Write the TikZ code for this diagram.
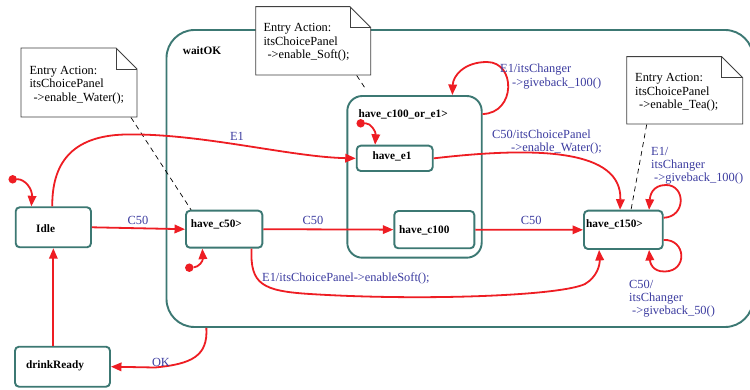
\documentclass[tikz,border=0pt]{standalone}
\usepackage{fontspec}
\setmainfont{Liberation Serif}
\usetikzlibrary{arrows.meta,calc}
\definecolor{stateline}{HTML}{3C7873}
\definecolor{trans}{HTML}{EE1D23}
\definecolor{lbl}{HTML}{3C3CA0}
\definecolor{noteline}{HTML}{404040}
\tikzset{
  superbox/.style={draw=stateline, line width=1.9pt, inner sep=0pt},
  statebox/.style={draw=stateline, line width=1.9pt, rounded corners=4pt, fill=white, inner sep=0pt},
  statename/.style={font=\fontsize{11.3}{13}\selectfont\bfseries, inner sep=0pt, anchor=base west},
  trn/.style={draw=trans, line width=1.8pt, -{Triangle[length=10.5pt,width=8.5pt]}},
  trnlabel/.style={text=lbl, font=\fontsize{12.4}{13.2}\selectfont, inner sep=0pt, align=left},
  initdot/.style={circle, fill=trans, inner sep=0pt, minimum size=8.5pt},
  noteshape/.style={draw=noteline, line width=0.9pt, fill=white, line join=miter},
  notetext/.style={font=\fontsize{12.4}{13.3}\selectfont, inner sep=0pt, align=left, anchor=north west},
  notelink/.style={draw=black, line width=0.7pt, dash pattern=on 5pt off 4pt}
}
\begin{document}
\begin{tikzpicture}[x=1pt,y=-1pt]
\useasboundingbox (0,0) rectangle (750,390);
\fill[white] (0,0) rectangle (750,390);
\clip (0,0) rectangle (750,390);

% superstates
\node[superbox, rounded corners=28pt, minimum width=586.5pt, minimum height=297pt] (waitok) at (459.75,178.5) {};
\node[statename] (waitokname) at (182.7,55) {waitOK};
\node[superbox, rounded corners=15pt, minimum width=134.4pt, minimum height=161.7pt] (comp) at (414.5,176.85) {};
\node[statename] (compname) at (358.3,117.5) {have\_c100\_or\_e1>};

% simple states
\node[statebox, minimum width=75.3pt, minimum height=40pt] (idle) at (53.35,227.3) {};
\node[statename] (idlename) at (36,232.5) {Idle};
\node[statebox, minimum width=95pt, minimum height=40pt] (drink) at (62.5,366.7) {};
\node[statename] (drinkname) at (26,368.5) {drinkReady};
\node[statebox, minimum width=76.3pt, minimum height=37pt] (c50) at (224.15,229.2) {};
\node[statename] (c50name) at (190.7,228) {have\_c50>};
\node[statebox, minimum width=80pt, minimum height=37.3pt] (c100) at (434.3,229.65) {};
\node[statename] (c100name) at (399,233.5) {have\_c100};
\node[statebox, minimum width=78.7pt, minimum height=38.3pt] (c150) at (623.35,229.85) {};
\node[statename] (c150name) at (586,228) {have\_c150>};
\node[statebox, minimum width=76pt, minimum height=25.3pt] (e1) at (394.7,158.35) {};
\node[statename] (e1name) at (372.3,159.5) {have\_e1};

% notes
\draw[noteshape] (21,48) -- (116,48) -- (137,69) -- (137,117) -- (21,117) -- cycle;
\draw[noteshape, fill=none] (116,48) -- (116,69) -- (137,69);
\node[notetext] (notewater) at (29.3,66) {Entry Action:\\itsChoicePanel\\\hspace{4pt}->enable\_Water();};
\coordinate (notewaterend) at (131,117.5);

\draw[noteshape] (255.7,6.7) -- (350,6.7) -- (370.7,27.4) -- (370.7,75) -- (255.7,75) -- cycle;
\draw[noteshape, fill=none] (350,6.7) -- (350,27.4) -- (370.7,27.4);
\node[notetext] (notesoft) at (263.3,23.5) {Entry Action:\\itsChoicePanel\\\hspace{4pt}->enable\_Soft();};
\coordinate (notesoftend) at (356.7,75.5);

\draw[noteshape] (626.7,56.7) -- (721.7,56.7) -- (742.7,77.7) -- (742.7,124) -- (626.7,124) -- cycle;
\draw[noteshape, fill=none] (721.7,56.7) -- (721.7,77.7) -- (742.7,77.7);
\node[notetext] (notetea) at (635,73.3) {Entry Action:\\itsChoicePanel\\\hspace{4pt}->enable\_Tea();};
\coordinate (noteteaend) at (646.7,124.5);

\draw[notelink] (notewaterend) -- ($(c50.north west)+(6,0)$);
\draw[notelink] (notesoftend) -- ($(comp.north west)+(20,-5)$);
\draw[notelink] (noteteaend) -- ($(c150.north west)+(48,0)$);

% initial pseudostates
\node[initdot] (i0) at (12.7,179.3) {};
\draw[trn] (i0) .. controls (25,179) and (32.5,189) .. ($(idle.north west)+(16.6,0)$);
\node[initdot] (i1) at (189.3,267.7) {};
\draw[trn] (i1) .. controls (199,267) and (203,261) .. ($(c50.south west)+(17.3,0)$);
\node[initdot] (i2) at (360.7,123.3) {};
\draw[trn] (i2) .. controls (371,123) and (376,132) .. ($(e1.north west)+(19.3,0)$);

% transitions
\draw[trn] (idle.east) -- (c50.west);
\node[trnlabel, anchor=base] (lc50a) at (138,225) {C50};
\draw[trn] (c50.east) -- (c100.west);
\node[trnlabel, anchor=base] (lc50b) at (313,225) {C50};
\draw[trn] (c100.east) -- (c150.west);
\node[trnlabel, anchor=base] (lc50c) at (531.3,225) {C50};

\draw[trn] ($(idle.north west)+(37.5,0)$) .. controls (52,165) and (70,136) .. (125,134.5)
  .. controls (200,133) and (290,157) .. (e1.west);
\node[trnlabel, anchor=base] (le1) at (237,140.7) {E1};

\draw[trn] (e1.east) .. controls (540,146) and (622,150) .. ($(c150.north west)+(37,0)$);
\node[trnlabel, anchor=north west] (lwater) at (492,129.5) {C50/itsChoicePanel\\\hspace{19pt}->enable\_Water();};

\draw[trn] ($(comp.north east)+(0,19)$) .. controls (516,113) and (516,62) .. (487,62)
  .. controls (464,62) and (453,76) .. ($(comp.north west)+(106,0)$);
\node[trnlabel, anchor=north west] (lgive100a) at (500,64) {E1/itsChanger\\\hspace{12pt}->giveback\_100()};

\draw[trn] ($(c50.south west)+(66.5,0)$) .. controls (250,284) and (262,291) .. (310,294)
  .. controls (420,301) and (560,296) .. (585,284)
  .. controls (597,277) and (600,265) .. ($(c150.south west)+(16,0)$);
\node[trnlabel, anchor=base west] (lsoft) at (262,282) {E1/itsChoicePanel->enableSoft();};

\draw[trn] ($(c150.north east)+(0,8)$) .. controls (686,217) and (686,185) .. (666,185)
  .. controls (652,185) and (650,196) .. ($(c150.north west)+(66,0)$);
\node[trnlabel, anchor=north west] (lgive100b) at (651,147) {E1/\\itsChanger\\\hspace{3pt}->giveback\_100()};

\draw[trn] ($(c150.south east)+(0,-10)$) .. controls (686,239) and (688,271) .. (665,271.5)
  .. controls (652,272) and (650,262) .. ($(c150.south west)+(66,0)$);
\node[trnlabel, anchor=north west] (lgive50) at (629,280) {C50/\\itsChanger\\\hspace{3pt}->giveback\_50()};

\draw[trn] ($(waitok.south west)+(40.8,0)$) .. controls (208,356) and (192,364) .. (155,367.5)
  -- (drink.east);
\node[trnlabel, anchor=base] (lok) at (161,366) {OK};

\draw[trn] (idle.south |- drink.north) -- (idle.south);
\end{tikzpicture}
\end{document}
